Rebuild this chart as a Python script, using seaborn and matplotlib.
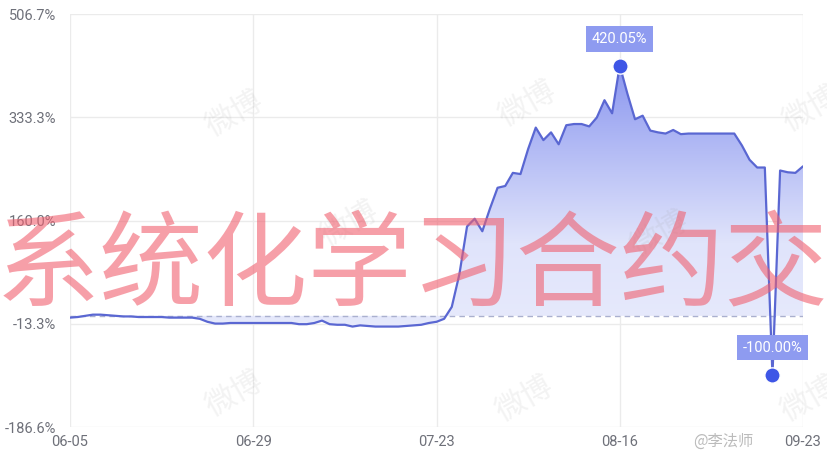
import numpy as np
import pandas as pd
import matplotlib
matplotlib.use("Agg")
import matplotlib.pyplot as plt
import seaborn as sns
from matplotlib.colors import LinearSegmentedColormap
from matplotlib.path import Path

# ---------------- data ----------------
day_index = list(range(97))
returns_pct = [
    -3, -2, 0, 2, 2, 1, 0, -1, -1, -2,
    -2, -2, -2, -3, -3, -3, -3, -5, -10, -13,
    -13, -12, -12, -12, -12, -12, -12, -12, -12, -12,
    -14, -14, -12, -8, -14, -15, -15, -18, -16, -17,
    -18, -18, -18, -18, -17, -16, -15, -12, -10, -5,
    15, 70, 150, 163, 142, 180, 215, 218, 240, 238,
    280, 316, 295, 308, 288, 320, 322, 322, 318, 333,
    362, 340, 420.05, 373, 330, 336, 311, 308, 306, 312,
    305, 306, 306, 306, 306, 306, 306, 306, 286, 262,
    249, 249, -100, 244, 241, 240, 251,
]
x_tick_pos = [0, 24, 48, 72, 96]
x_tick_labels = ["06-05", "06-29", "07-23", "08-16", "09-23"]
y_ticks = [-186.6, -13.3, 160.0, 333.3, 506.7]
y_tick_labels = ["-186.6%", "-13.3%", "160.0%", "333.3%", "506.7%"]
max_label = "420.05%"
min_label = "-100.00%"
watermark_text = "系统化学习合约交"
author_text = "@李法师"

df = pd.DataFrame({"day": day_index, "ret": returns_pct})

# ---------------- style ----------------
sns.set_theme(style="white")
plt.rcParams["font.family"] = ["Roboto", "Noto Sans CJK SC", "DejaVu Sans"]

W, H = 828, 461
fig = plt.figure(figsize=(W / 100, H / 100), dpi=100)
ax = fig.add_axes([70 / W, 1 - 427 / H, (803 - 70) / W, (427 - 14) / H])

ax.set_xlim(0, 96)
ax.set_ylim(-186.6, 506.7)

# grid
for yt in y_ticks:
    ax.axhline(yt, color="#ebebeb", lw=1, zorder=0)
for xt in x_tick_pos:
    ax.axvline(xt, color="#ebebeb", lw=1, zorder=0)
for s in ax.spines.values():
    s.set_visible(False)

# gradient area fill between line and zero
poly = ax.fill_between(df["day"], df["ret"], 0, color="none", lw=0)
cmap = LinearSegmentedColormap.from_list("g", ["#eef0fc", "#e0e4fb", "#8894ef"])
grad = np.linspace(0, 1, 256).reshape(-1, 1)
im = ax.imshow(grad, extent=[0, 96, -186.6, 430], aspect="auto",
               cmap=cmap, origin="lower", zorder=1, vmin=0, vmax=1)
paths = poly.get_paths()
verts = np.concatenate([p.vertices for p in paths])
codes = np.concatenate([p.codes if p.codes is not None else
                        np.full(len(p.vertices), Path.LINETO) for p in paths])
im.set_clip_path(Path(verts, codes), transform=ax.transData)

# zero dashed line
ax.axhline(0, color="#aab0cf", lw=1, ls=(0, (4, 3)), zorder=2)

# line
sns.lineplot(data=df, x="day", y="ret", ax=ax, color="#5a67d2", lw=1.6, zorder=3)

# extremes
imax = int(np.argmax(returns_pct))
imin = int(np.argmin(returns_pct))
for i, lab, dy in [(imax, max_label, 19), (imin, min_label, 20)]:
    ax.plot(day_index[i], returns_pct[i], "o", ms=11, color="#3e56e6",
            mec="white", mew=1, zorder=5)
    ax.annotate(lab, (day_index[i], returns_pct[i]), xytext=(0, dy),
                textcoords="offset points", ha="center", va="center",
                color="white", fontsize=10.5, zorder=6,
                bbox=dict(boxstyle="square,pad=0.4", fc="#8e9bf0", ec="none"))

# ticks
ax.set_xticks(x_tick_pos)
ax.set_xticklabels(x_tick_labels)
ax.set_yticks(y_ticks)
ax.set_yticklabels(y_tick_labels)
ax.tick_params(axis="both", length=0, labelsize=10.5, labelcolor="#6e7079")
ax.tick_params(axis="x", pad=6)
ax.tick_params(axis="y", pad=10)
ax.set_xlabel("")
ax.set_ylabel("")

# faint weibo watermarks
for (px, py) in [(235, 115), (528, 105), (812, 110), (350, 225), (660, 235),
                 (235, 395), (525, 400), (810, 400)]:
    fig.text(px / W, 1 - py / H, "微博", fontsize=22, color="#999999", alpha=0.12,
             rotation=30, ha="center", va="center",
             family=["Noto Sans CJK SC", "DejaVu Sans"])

# author tag
fig.text(693 / W, 1 - 441 / H, author_text, fontsize=11, color="#bbbbbb",
         ha="left", va="center", family=["Noto Sans CJK SC", "DejaVu Sans"])

# red overlay watermark
fig.text(-4 / W, 1 - 268 / H, watermark_text, fontsize=75, color="#f0606f",
         alpha=0.6, ha="left", va="center",
         family=["Noto Sans CJK SC", "DejaVu Sans"], zorder=10)

fig.savefig("out.png", dpi=100)
